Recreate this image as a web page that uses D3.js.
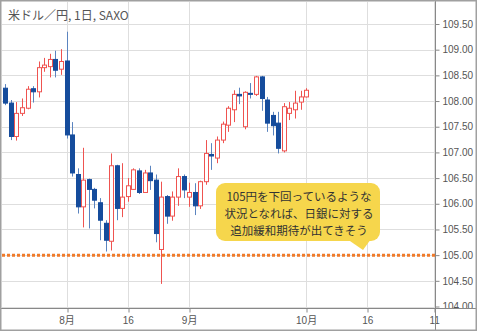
<!DOCTYPE html>
<html>
<head>
<meta charset="utf-8">
<script src="https://cdn.jsdelivr.net/npm/d3@7"></script>
<style>
  body { margin: 0; background: #fff; }
  svg { display: block; font-family: "Liberation Sans", "Noto Sans CJK JP", sans-serif; }
</style>
</head>
<body>
<script>
// USD/JPY daily, 2019-07-17 .. 2019-10-01 (trading days)
var dates = ["07-17","07-18","07-19","07-22","07-23","07-24","07-25","07-26","07-29","07-30","07-31",
  "08-01","08-02","08-05","08-06","08-07","08-08","08-09","08-12","08-13","08-14","08-15","08-16",
  "08-19","08-20","08-21","08-22","08-23","08-26","08-27","08-28","08-29","08-30",
  "09-02","09-03","09-04","09-05","09-06","09-09","09-10","09-11","09-12","09-13",
  "09-16","09-17","09-18","09-19","09-20","09-23","09-24","09-25","09-26","09-27","09-30","10-01"];
var open  = [108.25,107.96,107.31,107.76,107.86,108.24,108.18,108.65,108.67,108.81,108.62,
  108.78,107.34,106.57,105.94,106.47,106.28,106.02,105.62,105.27,106.74,105.91,106.14,
  106.28,106.64,106.22,106.60,106.46,105.11,106.14,105.76,106.13,106.53,
  106.13,106.22,105.96,106.43,106.96,106.89,107.24,107.53,107.83,108.13,
  107.50,108.15,108.13,108.47,108.02,107.72,107.57,107.03,107.76,107.83,107.98,108.08];
var high  = [108.33,108.02,107.98,108.05,108.29,108.29,108.77,108.84,108.92,108.98,109.01,
  109.35,107.59,106.69,107.09,106.49,106.31,106.11,105.68,106.98,106.76,106.79,106.50,
  106.69,106.69,106.66,106.74,106.57,106.43,106.17,106.24,106.69,106.57,
  106.41,106.40,106.45,107.24,107.18,107.31,107.60,107.90,108.21,108.26,
  108.19,108.35,108.49,108.49,108.08,107.79,107.79,107.96,107.98,108.20,108.20,108.25];
var low   = [107.92,107.24,107.23,107.71,107.84,107.97,108.07,108.57,108.46,108.46,108.51,
  107.27,106.53,105.81,105.54,105.52,105.91,105.29,105.07,105.09,105.68,105.74,106.04,
  106.27,106.19,106.22,106.27,105.25,104.44,105.61,105.67,105.96,106.11,
  105.94,105.78,105.90,106.37,106.66,106.79,107.18,107.40,107.59,107.94,
  107.45,108.05,108.10,107.81,107.40,107.33,106.98,107.00,107.63,107.66,107.83,108.07];
var close = [107.96,107.31,107.76,107.87,108.23,108.18,108.65,108.70,108.81,108.60,108.77,
  107.34,106.60,105.94,106.46,106.28,106.07,105.68,105.29,106.74,105.91,106.13,106.35,
  106.66,106.22,106.60,106.45,105.42,106.13,105.76,106.13,106.53,106.27,
  106.22,105.96,106.43,106.98,106.93,107.24,107.55,107.86,108.13,108.10,
  108.17,108.13,108.47,108.05,107.57,107.52,107.08,107.89,107.86,107.96,108.08,108.21];

var priceTicks = [104, 104.5, 105, 105.5, 106, 106.5, 107, 107.5, 108, 108.5, 109, 109.5];
var dateTickIdx = [11, 22, 33, 54, 65, 77];          // 8/1, 8/16, 9/2, 10/1, 10/16, 11/1
var dateTickLabels = ["8月", "16", "9月", "10月", "16", "11"];
var refLevel = 105;
var noteLines = ["105円を下回っているような", "状況となれば、日銀に対する", "追加緩和期待が出てきそう"];

var W = 477, H = 331,
    plot = {left: 2, top: 2, right: 435, bottom: 308};

var x = d3.scaleLinear().domain([0, 54]).range([5.3, 5.3 + 54 * 5.57]);
var y = d3.scaleLinear().domain([104, 109.5]).range([306.5, 24]);

var svg = d3.select("body").append("svg")
    .attr("width", W)
    .attr("height", H);

svg.append("rect").attr("width", W).attr("height", H).attr("fill", "#fff");

svg.append("clipPath").attr("id", "plotclip")
  .append("rect")
    .attr("x", plot.left).attr("y", plot.top)
    .attr("width", plot.right - plot.left).attr("height", plot.bottom - plot.top);
svg.append("clipPath").attr("id", "axisclip")
  .append("rect")
    .attr("x", plot.right).attr("y", 0)
    .attr("width", W - plot.right).attr("height", plot.bottom);

// grid
var grid = svg.append("g").attr("clip-path", "url(#plotclip)");
grid.selectAll(".hg").data(priceTicks).enter().append("line")
    .attr("x1", plot.left).attr("x2", plot.right)
    .attr("y1", (d) => Math.round(y(d)) + 0.5).attr("y2", (d) => Math.round(y(d)) + 0.5)
    .attr("stroke", "#dedede");
grid.selectAll(".vg").data(dateTickIdx).enter().append("line")
    .attr("x1", (d) => Math.round(x(d)) + 0.5).attr("x2", (d) => Math.round(x(d)) + 0.5)
    .attr("y1", plot.top).attr("y2", plot.bottom)
    .attr("stroke", "#dedede");

// title
svg.append("text")
    .attr("x", 8).attr("y", 19.5)
    .attr("font-size", 12).attr("fill", "#555")
    .style("font-family", "'Noto Sans CJK JP', sans-serif")
    .text("米ドル／円, 1日, SAXO");

// candles
var up = "#ef5350", down = "#154c9c", downWick = "#5b84bf";
var candles = svg.append("g").attr("clip-path", "url(#plotclip)")
  .selectAll("g").data(dates).enter().append("g");

candles.append("line")
    .attr("x1", (d, i) => Math.round(x(i)) + 0.5)
    .attr("x2", (d, i) => Math.round(x(i)) + 0.5)
    .attr("y1", (d, i) => y(high[i]))
    .attr("y2", (d, i) => y(low[i]))
    .attr("stroke", (d, i) => close[i] >= open[i] ? up : downWick);

candles.append("rect")
    .attr("x", (d, i) => Math.round(x(i)) - 1.5)
    .attr("width", 4)
    .attr("y", (d, i) => y(Math.max(open[i], close[i])))
    .attr("height", (d, i) => Math.max(1, Math.abs(y(open[i]) - y(close[i]))))
    .attr("fill", (d, i) => close[i] >= open[i] ? "#fff" : down)
    .attr("stroke", (d, i) => close[i] >= open[i] ? up : down)
    .attr("stroke-width", 1);

// 105 line
svg.append("line")
    .attr("x1", plot.left).attr("x2", plot.right)
    .attr("y1", y(refLevel)).attr("y2", y(refLevel))
    .attr("stroke", "#f07a2a").attr("stroke-width", 3)
    .attr("stroke-dasharray", "3,2");

// callout
var note = svg.append("g");
note.append("path")
    .attr("d", "M347,239 L371,239 L363,250 Z")
    .attr("fill", "#f6d64c");
note.append("rect")
    .attr("x", 216).attr("y", 183).attr("width", 164).attr("height", 58).attr("rx", 9)
    .attr("fill", "#f6d64c");
note.selectAll("text").data(noteLines).enter().append("text")
    .attr("x", 299).attr("y", (d, i) => 201 + i * 17)
    .attr("text-anchor", "middle")
    .attr("font-size", 11.5).attr("fill", "#333")
    .style("font-family", "'Noto Sans CJK JP', sans-serif")
    .text((d) => d);

// right price axis (clipped at the date axis line)
var yAxis = d3.axisRight(y).tickValues(priceTicks).tickFormat(d3.format(".2f")).tickSize(4).tickPadding(3);
var ya = svg.append("g")
    .attr("clip-path", "url(#axisclip)")
  .append("g")
    .attr("transform", "translate(" + (plot.right + 0.5) + ",0)")
    .call(yAxis);
ya.select(".domain").remove();
ya.selectAll("line").attr("stroke", "#888");
ya.selectAll("text").attr("fill", "#555").attr("font-size", 10)
    .style("font-family", "'Liberation Sans', sans-serif");

// bottom date axis
var xAxis = d3.axisBottom(x).tickValues(dateTickIdx)
    .tickFormat((d, i) => dateTickLabels[i]).tickSize(4).tickPadding(4);
var xa = svg.append("g")
    .attr("transform", "translate(0," + (plot.bottom + 0.5) + ")")
    .call(xAxis);
xa.select(".domain").remove();
xa.selectAll("line").attr("stroke", "#888")
    .attr("transform", (d) => "translate(" + (Math.round(x(d)) + 0.5 - x(d)) + ",0)");
xa.selectAll("text").attr("fill", "#555").attr("font-size", 10)
    .style("font-family", "'Liberation Sans', 'Noto Sans CJK JP', sans-serif");

// axis lines and frame
svg.append("line")
    .attr("x1", 0).attr("x2", W).attr("y1", plot.bottom + 0.5).attr("y2", plot.bottom + 0.5)
    .attr("stroke", "#888");
svg.append("line")
    .attr("x1", plot.right + 0.5).attr("x2", plot.right + 0.5).attr("y1", 0).attr("y2", H)
    .attr("stroke", "#888");
svg.append("rect")
    .attr("x", 0.75).attr("y", 0.75).attr("width", W - 1.5).attr("height", H - 1.5)
    .attr("fill", "none").attr("stroke", "#a0a0a0").attr("stroke-width", 1.5);
</script>
</body>
</html>
